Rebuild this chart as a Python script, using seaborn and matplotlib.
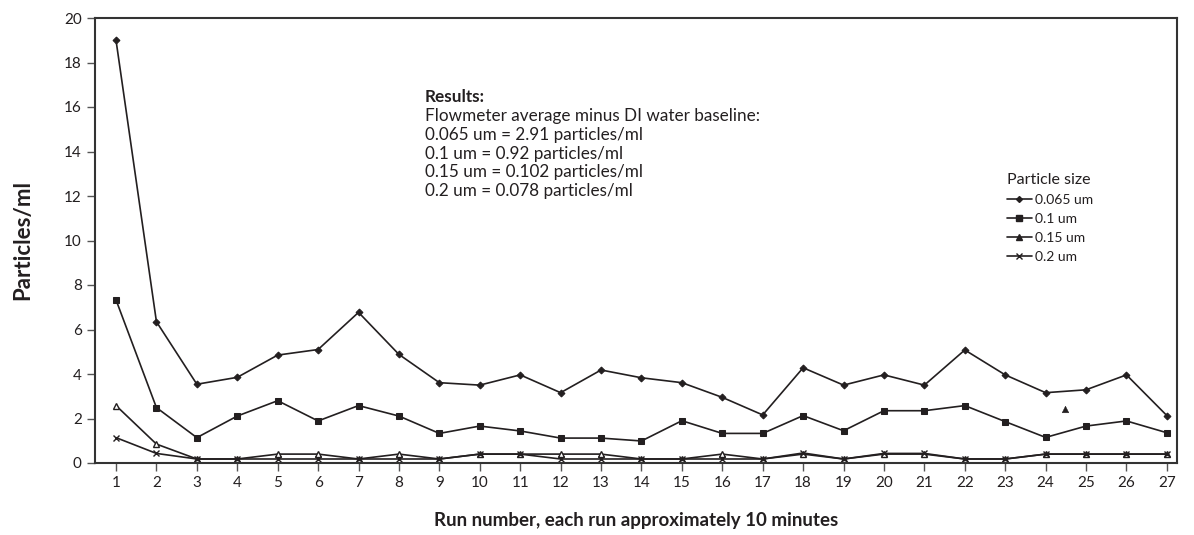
import matplotlib
matplotlib.use("Agg")
import matplotlib.pyplot as plt
import seaborn as sns
import pandas as pd
import numpy as np
from matplotlib.lines import Line2D

runs = list(range(1, 28))
size_labels = ["0.065 um", "0.1 um", "0.15 um", "0.2 um"]
vals_0065 = [19.0, 6.35, 3.54, 3.85, 4.85, 5.1, 6.77, 4.88, 3.61, 3.5, 3.96, 3.16, 4.18, 3.83,
             3.61, 2.95, 2.16, 4.28, 3.5, 3.96, 3.5, 5.08, 3.96, 3.16, 3.29, 3.96, 2.13]
vals_01 = [7.33, 2.49, 1.14, 2.11, 2.8, 1.89, 2.58, 2.11, 1.33, 1.66, 1.44, 1.12, 1.12, 0.99,
           1.9, 1.33, 1.33, 2.13, 1.45, 2.35, 2.35, 2.58, 1.86, 1.15, 1.66, 1.89, 1.36]
vals_015 = [2.58, 0.85, 0.18, 0.18, 0.4, 0.4, 0.18, 0.4, 0.18, 0.4, 0.4, 0.4, 0.4, 0.18,
            0.18, 0.4, 0.18, 0.4, 0.18, 0.4, 0.4, 0.18, 0.18, 0.4, 0.4, 0.4, 0.4]
vals_02 = [1.14, 0.43, 0.18, 0.18, 0.18, 0.18, 0.18, 0.18, 0.18, 0.4, 0.4, 0.18, 0.18, 0.18,
           0.18, 0.18, 0.18, 0.45, 0.18, 0.43, 0.43, 0.18, 0.18, 0.4, 0.4, 0.4, 0.4]
stray_x = [24.48]
stray_y = [2.41]

y_ticks = list(range(0, 21, 2))
results_title = "Results:"
results_lines = ["Flowmeter average minus DI water baseline:",
                 "0.065 um = 2.91 particles/ml",
                 "0.1 um = 0.92 particles/ml",
                 "0.15 um = 0.102 particles/ml",
                 "0.2 um = 0.078 particles/ml"]

series = {"0.065 um": vals_0065, "0.1 um": vals_01, "0.15 um": vals_015, "0.2 um": vals_02}

sns.set_theme(style="white")
plt.rcParams["font.family"] = ["Lato", "DejaVu Sans"]

ink = "#231f20"
fig = plt.figure(figsize=(11.94, 5.35), dpi=100)
ax = fig.add_axes([95 / 1194, 1 - 463 / 535, (1177 - 95) / 1194, (463 - 18) / 535])

styles = {
    "0.065 um": dict(marker="D", markersize=3.5, markerfacecolor=ink, markeredgecolor=ink),
    "0.1 um": dict(marker="s", markersize=4.8, markerfacecolor=ink, markeredgecolor=ink),
    "0.15 um": dict(marker="^", markersize=5, markerfacecolor="white", markeredgecolor=ink,
                    markeredgewidth=1.0),
    "0.2 um": dict(marker="x", markersize=4.5, markeredgecolor=ink, markeredgewidth=1.0),
}
for s in size_labels:
    d = pd.DataFrame({"run": runs, "value": series[s]})
    sns.lineplot(data=d, x="run", y="value", color=ink, linewidth=1.2, ax=ax,
                 legend=False, **styles[s])

sns.scatterplot(x=stray_x, y=stray_y, marker="^", color=ink, s=22, ax=ax, edgecolor=ink)

ax.set_xlim(0.48, 27.25)
ax.set_ylim(0, 20)
ax.set_xticks(runs)
ax.set_yticks(y_ticks)
ax.tick_params(axis="both", direction="out", length=6, width=1, color="#555555",
               labelsize=11, labelcolor=ink, bottom=True, left=True)
for sp in ax.spines.values():
    sp.set_color("#333333")
    sp.set_linewidth(1.5)
    sp.set_visible(True)

ax.set_xlabel("Run number, each run approximately 10 minutes", fontsize=13.5,
              fontweight="bold", color=ink, labelpad=16)
ax.set_ylabel("Particles/ml", fontsize=16, fontweight="bold", color=ink, labelpad=22)

fig.text(425 / 1194, 1 - 97 / 535, results_title, fontsize=12.3, fontweight="bold",
         color=ink, va="center", ha="left")
for i, t in enumerate(results_lines):
    fig.text(425 / 1194, 1 - (116 + 18.8 * i) / 535, t, fontsize=12.3, color=ink,
             va="center", ha="left")

handles = [
    Line2D([], [], color=ink, lw=1.2, marker="D", markersize=3),
    Line2D([], [], color=ink, lw=1.2, marker="s", markersize=5),
    Line2D([], [], color=ink, lw=1.2, marker="^", markersize=4),
    Line2D([], [], color=ink, lw=1.2, marker="x", markersize=4.5, markeredgewidth=1.0),
]
leg = ax.legend(handles, size_labels, title="Particle size", loc="upper left",
                bbox_to_anchor=(1000 / 1194, 1 - 166 / 535), bbox_transform=fig.transFigure,
                frameon=False, fontsize=10, title_fontsize=11.5, handlelength=1.8,
                handletextpad=0.2, labelspacing=0.5, borderpad=0, alignment="left")
for t in leg.get_texts():
    t.set_color(ink)
leg.get_title().set_color(ink)

fig.savefig("out.png", dpi=100)
